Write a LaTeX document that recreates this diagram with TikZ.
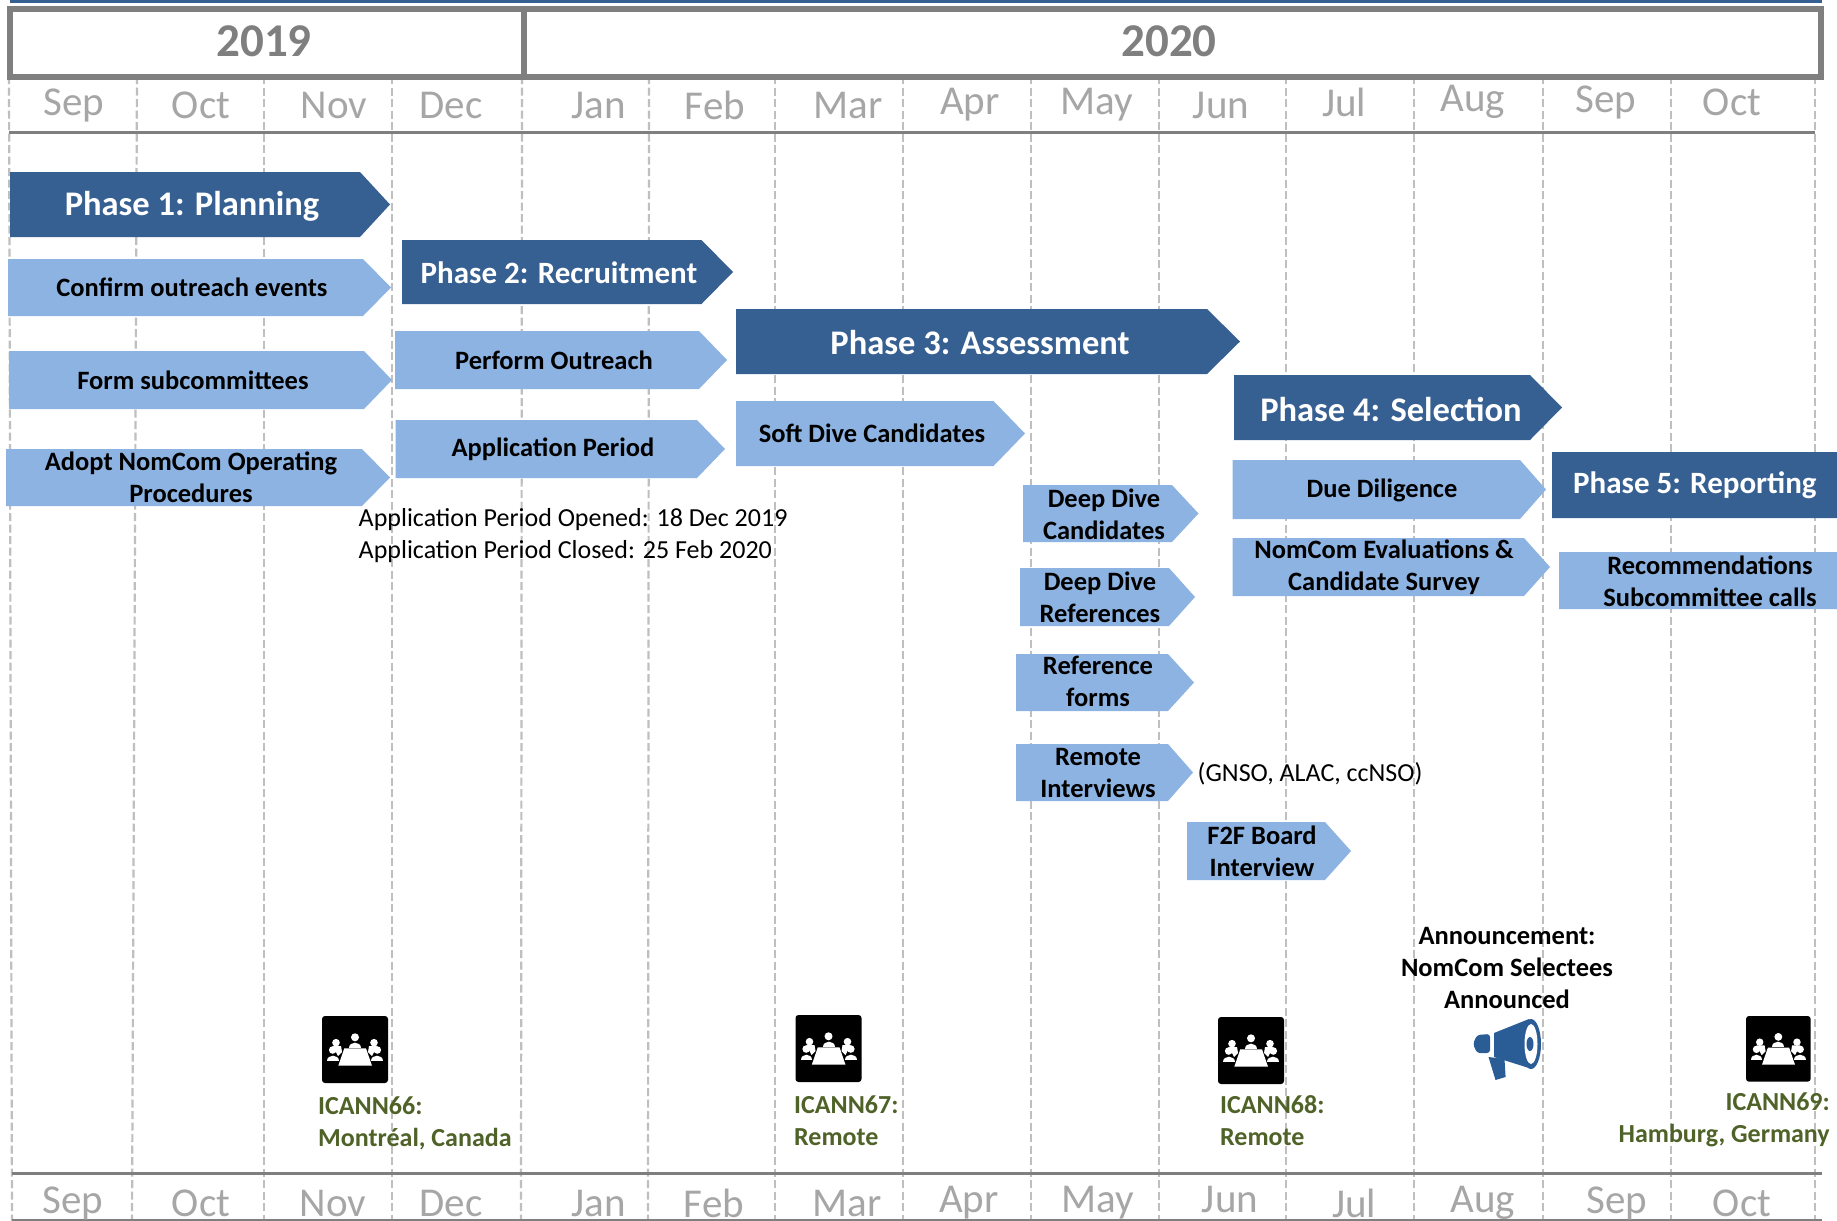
\documentclass[tikz,border=0pt]{standalone}
\usepackage{fontspec}
\setmainfont{Carlito}
\definecolor{darkband}{HTML}{376092}
\definecolor{lightband}{HTML}{8DB3E2}
\definecolor{framegray}{HTML}{7F7F7F}
\definecolor{monthgray}{HTML}{A6A6A6}
\definecolor{dashgray}{HTML}{BFBFBF}
\definecolor{olive}{HTML}{4F6228}
\definecolor{horn}{HTML}{2A5C96}
\tikzset{
  darkarrow/.style={fill=darkband},
  lightarrow/.style={fill=lightband},
  phase/.style={inner sep=0pt,text=white,align=center,font=\bfseries\fontsize{#1}{40}\selectfont},
  task/.style={inner sep=0pt,text=black,align=center,font=\bfseries\fontsize{26.5}{32}\selectfont},
  note/.style={inner sep=0pt,text=black,align=left,anchor=west,font=\fontsize{26}{32}\selectfont},
  venue/.style={inner sep=0pt,text=olive,align=left,font=\bfseries\fontsize{26}{32}\selectfont},
  month/.style={inner sep=0pt,text=monthgray,font=\fontsize{41}{48}\selectfont},
  year/.style={inner sep=0pt,text=framegray,font=\bfseries\fontsize{47}{52}\selectfont},
  gridline/.style={draw=dashgray,line width=2.2pt,dash pattern=on 8pt off 3.5pt},
  rule/.style={draw=framegray,line width=3pt},
  pics/meeting/.style={code={
    \fill[black,rounded corners=3pt] (0,0) rectangle (66,67);
    \fill[white] (22.3,32.3) -- (44,32.3) -- (50,49.7) -- (16.3,49.7) -- cycle;
    \fill[white] (33,21.3) circle (4pt);
    \fill[white] (27,32) .. controls (27,24.5) and (39,24.5) .. (39,32) -- cycle;
    \foreach \mx/\hx in {0/1,66/-1}{
      \begin{scope}[shift={(\mx,0)},xscale=\hx]
        \fill[white] (14,26.7) circle (3.8pt);
        \fill[white] (10.7,34) circle (3.8pt);
        \fill[white] (11,30) -- (19,30) -- (20,36) -- (16,40) -- cycle;
        \fill[white] (5,44.7) .. controls (5,37.5) and (16.7,37.5) .. (16.7,44.7) -- cycle;
      \end{scope}}
  }}
}
\newcommand{\bandarrow}[9]{%
  \path[#1] (#2,#5) -- (#3,#5) -- (#4,{(#5+#6)/2}) -- (#3,#6) -- (#2,#6) -- cycle;
  \node[#7] at #8 {#9};}
\begin{document}
\begin{tikzpicture}[x=1pt,y=-1pt]
\useasboundingbox (0,0) rectangle (1837,1221);
\clip (0,0) rectangle (1837,1221);
\fill[white] (0,0) rectangle (1837,1221);
% grid
\foreach \i/\a/\b in {0/9/12,1/137/132,2/264/264,3/392/392,4/522/521,5/649/648,6/775/775,7/903/903,8/1031/1031,9/1159/1159,10/1286/1286,11/1414/1414,12/1543/1543,13/1671/1671,14/1815/1815}{
  \coordinate (gt\i) at (\a,76);
  \coordinate (gb\i) at (\b,1221);
  \draw[gridline] (gt\i) -- (gb\i);
}
% top strip and year frame
\fill[darkband] (10,0) rectangle (1822,3);
\node[draw=framegray,line width=6pt,minimum width=514pt,minimum height=68pt,inner sep=0pt,anchor=north west] (y2019) at (7,6) {};
\node[draw=framegray,line width=6pt,minimum width=1297pt,minimum height=68pt,inner sep=0pt,anchor=north west] (y2020) at (521,6) {};
\node[year] (l2019) at (264,41) {2019};
\node[year] (l2020) at (1169,41) {2020};
% month rules
\coordinate (ra) at (9,132.5); \coordinate (rb) at (1815,132.5);
\draw[rule] (ra) -- (rb);
\coordinate (rc) at (12,1173); \coordinate (rd) at (1822,1173);
\draw[rule] (rc) -- (rd);
\coordinate (re) at (12,1220); \coordinate (rf) at (1822,1220);
\draw[draw=framegray,line width=2pt] (re) -- (rf);
% months
\foreach \n/\t/\mx/\my in {a/Sep/74/105,b/Oct/201/105,c/Nov/334/105,d/Dec/451/105,e/Jan/599/105,f/Feb/715/105,g/Mar/848/105,h/Apr/970/105,i/May/1097/105,j/Jun/1221/105,k/Jul/1344/102,l/Aug/1473/102,m/Sep/1606/102,n/Oct/1732/102}{
  \node[month] (top\n) at (\mx,\my) {\t};
}
\foreach \n/\t/\mx/\my in {a/Sep/73/1203,b/Oct/201/1203,c/Nov/333/1203,d/Dec/451/1203,e/Jan/599/1203,f/Feb/714/1203,g/Mar/847/1203,h/Apr/969/1203,i/May/1098/1203,j/Jun/1230/1199,k/Jul/1354/1203,l/Aug/1483/1203,m/Sep/1617/1203,n/Oct/1742/1203}{
  \node[month] (bot\n) at (\mx,\my) {\t};
}
% phase 1
\bandarrow{darkarrow}{10}{360}{390}{172}{237}{phase=34.5,name=p1}{(192,206)}{Phase 1: Planning}
\bandarrow{lightarrow}{8}{363}{391}{259}{316}{task,name=t1a}{(192,287)}{Confirm outreach events}
\bandarrow{lightarrow}{9}{364}{392}{351}{409}{task,name=t1b}{(193,380)}{Form subcommittees}
\bandarrow{lightarrow}{6}{362}{390}{449}{506}{task,name=t1c}{(191,477)}{Adopt NomCom Operating\\Procedures}
% phase 2
\bandarrow{darkarrow}{402}{701.5}{733}{240}{304}{phase=31,name=p2}{(559,273)}{Phase 2: Recruitment}
\bandarrow{lightarrow}{395}{699}{727}{331}{389}{task,name=t2a}{(554,360)}{Perform Outreach}
\bandarrow{lightarrow}{395.5}{697}{725}{420}{478}{task,name=t2b}{(553,449)}{Application Period}
\node[note] (appnote) at (358.5,536) {Application Period Opened: 18 Dec 2019\\Application Period Closed: 25 Feb 2020};
% phase 3
\bandarrow{darkarrow}{736}{1207}{1240}{309}{374}{phase=34.5,name=p3}{(980,343)}{Phase 3: Assessment}
\bandarrow{lightarrow}{736}{993.5}{1025}{401}{466}{task,name=t3a}{(872,433.5)}{Soft Dive Candidates}
\bandarrow{lightarrow}{1023}{1172}{1198.5}{485}{542}{task,name=t3b}{(1104,514)}{Deep Dive\\Candidates}
\bandarrow{lightarrow}{1020}{1169}{1195}{568}{626}{task,name=t3c}{(1100,597)}{Deep Dive\\References}
\bandarrow{lightarrow}{1016}{1168}{1194}{654}{711}{task,name=t3d}{(1098,681)}{Reference\\forms}
\bandarrow{lightarrow}{1016}{1168}{1193}{744}{801}{task,name=t3e}{(1098,773)}{Remote\\Interviews}
\node[note] (gnso) at (1197.5,774) {(GNSO, ALAC, ccNSO)};
\bandarrow{lightarrow}{1187}{1325}{1351}{822}{880}{task,name=t3f}{(1262,851)}{F2F Board\\Interview}
% phase 4
\bandarrow{darkarrow}{1234}{1530}{1562}{375}{440}{phase=34.5,name=p4}{(1391,409)}{Phase 4: Selection}
\bandarrow{lightarrow}{1232.5}{1520}{1546}{460}{519}{task,name=t4a}{(1382,490)}{Due Diligence}
\bandarrow{lightarrow}{1232.5}{1524}{1550}{538}{596}{task,name=t4b}{(1384,567)}{NomCom Evaluations \&\\Candidate Survey}
% phase 5
\bandarrow{darkarrow}{1552}{1900}{1930}{452}{518}{phase=31,anchor=west,name=p5}{(1573,485)}{Phase 5: Reporting}
\bandarrow{lightarrow}{1559}{1900}{1930}{552}{609}{task,name=t5a}{(1710,581)}{Recommendations\\Subcommittee calls}
% announcement
\node[task] (announce) at (1507,968) {Announcement:\\NomCom Selectees\\Announced};
\begin{scope}
  \fill[horn] (1494,1033) -- (1529,1019) -- (1529,1068) -- (1494,1057) -- cycle;
  \fill[horn] (1531,1044) ellipse [x radius=10pt,y radius=25pt];
  \fill[white] (1531,1044) ellipse [x radius=6.5pt,y radius=20pt];
  \fill[horn] (1530,1044) ellipse [x radius=3.5pt,y radius=7pt];
  \fill[horn,rounded corners=3pt] (1477,1035) -- (1490,1034) -- (1490,1053) -- (1477,1053) -- (1473,1044) -- cycle;
  \fill[horn] (1488.5,1057) -- (1504.5,1059) -- (1505.6,1077) -- (1495.5,1080) -- cycle;
\end{scope}
% meetings
\pic at (322,1016) {meeting};
\pic at (795.5,1015) {meeting};
\pic at (1218,1017) {meeting};
\pic[xscale=0.98,yscale=0.98] at (1746,1016) {meeting};
\node[venue,anchor=west] (i66) at (318,1123) {ICANN66:\\Montréal, Canada};
\node[venue,anchor=west] (i67) at (794,1121) {ICANN67:\\Remote};
\node[venue,anchor=west] (i68) at (1220,1121) {ICANN68:\\Remote};
\node[venue,anchor=east,align=right] (i69) at (1830,1120) {ICANN69:\\Hamburg, Germany};
\end{tikzpicture}
\end{document}
